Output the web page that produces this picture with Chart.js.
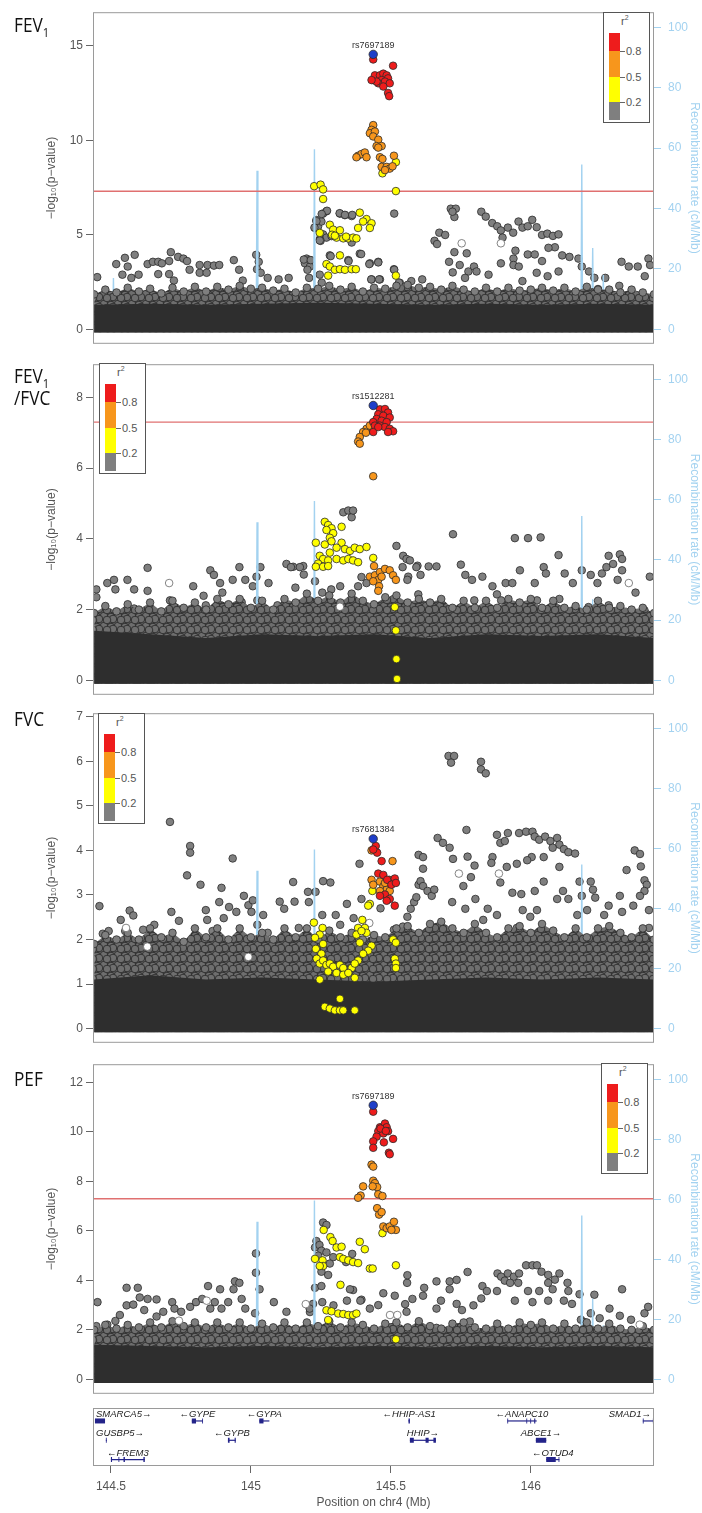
<!DOCTYPE html>
<html>
<head>
<meta charset="utf-8">
<script src="https://cdn.jsdelivr.net/npm/chart.js@4.4.1/dist/chart.umd.min.js"></script>
<style>
  body { margin: 0; background: #fff; width: 702px; height: 1513px; position: relative; overflow: hidden; font-family: 'Liberation Sans', Arial, sans-serif; }
  .box { position: absolute; left: 0; width: 702px; }
  .lab { position: absolute; left: 14px; font-family: 'Open Sans', sans-serif; font-size: 20px; line-height: 22px; color: #111; transform: scaleX(0.86); transform-origin: 0 0; z-index: 5; }
  .lab sub { font-size: 13px; vertical-align: -5px; line-height: 0; }
  .key { position: absolute; width: 45px; height: 109px; border: 1px solid #555; background: #fff; font-size: 11px; color: #555; z-index: 5; }
  .key .r2 { position: absolute; left: 17px; top: 1px; }
  .key .r2 sup { font-size: 7px; }
  .key .seg { position: absolute; left: 5px; width: 11px; }
  .key .tk { position: absolute; left: 16px; width: 5px; height: 1px; background: #666; }
  .key .tl { position: absolute; left: 22px; line-height: 12px; }
</style>
</head>
<body>
<script>
// x axis (Mb on chr4)
const X_MIN = 144.436;
const X_MAX = 146.44;
const X_TICKS = [144.5, 145, 145.5, 146];
const GW_LINE = 7.3;
const REC_TICKS = [0, 20, 40, 60, 80, 100];
const REC_MIN = -4.8;
const REC_MAX = 105;
const R2_LABELS = ['0.8', '0.5', '0.2'];

const COLORS = {
	red: '#ee1c1c',
	orange: '#f7961c',
	yellow: '#ffff00',
	gray: '#7f7f7f',
	blue: '#1f3ec8',
	rec: '#a3d2f0',
	navy: '#24248a',
	axis: '#555555',
};

// recombination rate (shared by all panels)
const REC_X = [144.436, 144.47, 144.506, 144.509, 144.512, 144.56, 144.62, 144.70, 144.78, 144.86, 144.94, 145.00, 145.019, 145.022, 145.025, 145.08, 145.14, 145.20, 145.224, 145.227, 145.230, 145.30, 145.38, 145.46, 145.54, 145.62, 145.70, 145.78, 145.86, 145.94, 146.02, 146.10, 146.179, 146.182, 146.185, 146.218, 146.221, 146.224, 146.256, 146.259, 146.262, 146.32, 146.38, 146.44];
const REC_Y = [1.5, 2.5, 1, 17, 1, 2, 3, 1.5, 2, 1, 2.5, 1.5, 1, 52.5, 1, 2, 1.5, 2, 1, 59.6, 1, 2, 1.5, 2.5, 1, 2, 3, 1.5, 2, 1, 2.5, 1.5, 1, 54.6, 1, 1, 26.9, 1, 1, 18, 1, 2, 1.5, 2];

// top edge of the dense SNP mass, and of its darkest part
const MASS_X = [144.44, 144.48, 144.52, 144.56, 144.60, 144.64, 144.68, 144.72, 144.76, 144.80, 144.84, 144.88, 144.92, 144.96, 145.00, 145.04, 145.08, 145.12, 145.16, 145.20, 145.24, 145.28, 145.32, 145.36, 145.40, 145.44, 145.48, 145.52, 145.56, 145.60, 145.64, 145.68, 145.72, 145.76, 145.80, 145.84, 145.88, 145.92, 145.96, 146.00, 146.04, 146.08, 146.12, 146.16, 146.20, 146.24, 146.28, 146.32, 146.36, 146.40, 146.44];
const DARK_X = [144.44, 144.64, 144.84, 145.04, 145.24, 145.44, 145.64, 145.84, 146.04, 146.24, 146.44];

//FEV1
const FEV1_MASS = [1.85, 2.1, 1.95, 2.2, 2.0, 2.15, 1.9, 2.2, 2.0, 2.25, 2.0, 2.25, 2.1, 2.3, 2.15, 2.2, 2.05, 2.15, 1.95, 2.2, 2.15, 2.3, 2.1, 2.25, 2.0, 2.2, 2.15, 2.3, 2.35, 2.2, 2.25, 2.1, 2.3, 2.1, 2.0, 2.2, 2.0, 2.2, 2.05, 2.1, 2.2, 2.05, 2.2, 2.0, 2.25, 2.1, 2.1, 1.95, 2.1, 1.95, 1.85];
const FEV1_DARK = [1.3, 1.35, 1.3, 1.35, 1.4, 1.35, 1.3, 1.35, 1.3, 1.35, 1.3];
const FEV1_LEAD = [145.437, 14.54];
const FEV1_RED = [[145.437,14.27],[145.508,13.94],[145.437,13.18],[145.443,13.43],[145.461,13.43],[145.473,13.52],[145.485,13.43],[145.490,13.27],[145.467,13.18],[145.479,13.10],[145.455,13.01],[145.496,13.01],[145.473,12.84],[145.490,12.50],[145.494,12.33],[145.449,13.10],[145.431,13.18]];
const FEV1_ORANGE = [[145.437,10.80],[145.431,10.55],[145.425,10.37],[145.443,10.46],[145.437,10.20],[145.455,10.03],[145.449,9.69],[145.467,9.69],[145.455,9.61],[145.383,9.18],[145.395,9.27],[145.407,9.35],[145.413,9.10],[145.377,9.10],[145.461,9.10],[145.470,9.01],[145.511,9.18],[145.467,8.59],[145.485,8.59],[145.496,8.50],[145.479,8.42],[145.506,8.62]];
const FEV1_YELLOW = [[145.518,8.84],[145.470,8.25],[145.226,7.57],[145.249,7.65],[145.258,7.40],[145.258,6.89],[145.518,7.31],[145.389,6.17],[145.413,5.83],[145.431,5.61],[145.401,5.70],[145.425,5.36],[145.383,5.36],[145.282,5.53],[145.294,5.27],[145.246,5.10],[145.318,5.24],[145.306,4.85],[145.330,4.81],[145.348,4.81],[145.365,4.85],[145.377,4.81],[145.290,5.00],[145.300,4.95],[145.340,4.90],[145.318,3.91],[145.270,3.45],[145.282,3.32],[145.300,3.15],[145.318,3.18],[145.336,3.15],[145.360,3.18],[145.375,3.18],[145.276,2.84],[145.518,2.84]];
const FEV1_WHITE = [[145.753,4.55],[145.893,4.55]];
const FEV1_GRAY = [[145.270,6.24],[145.258,6.12],[145.318,6.12],[145.336,6.04],[145.360,5.99],[145.234,5.78],[145.229,5.36],[145.240,5.44],[145.252,5.70],[145.258,5.02],[145.270,4.85],[145.246,4.76],[145.288,4.93],[145.360,4.59],[145.512,6.12],[145.249,4.68],[145.282,3.91],[145.348,3.66],[145.389,4.00],[145.425,3.49],[145.455,3.57],[145.199,3.74],[145.211,3.66],[145.193,3.49],[145.211,3.32],[145.511,3.18],[145.246,2.89],[145.431,2.64],[145.461,2.64],[145.532,2.46],
	[144.451,2.76],[144.519,3.45],[144.550,3.78],[144.585,3.94],[144.560,3.32],[144.541,2.89],[144.573,2.72],[144.599,2.89],[144.631,3.45],[144.650,3.57],[144.669,3.57],[144.669,2.92],[144.682,3.49],[144.708,3.61],[144.714,4.08],[144.740,3.83],[144.759,3.74],[144.772,3.61],[144.708,2.92],[144.725,2.58],[144.781,3.15],[144.817,2.99],[144.817,3.40],[144.845,3.40],[144.868,3.37],[144.887,3.40],[144.842,2.99],[144.939,3.66],[144.958,3.15],[144.971,2.58],[145.019,3.94],[145.028,3.57],[145.022,3.18],[145.035,2.99],[145.060,2.72],[145.099,2.64],[145.135,2.72],[145.189,3.69],[145.214,3.66],[145.202,3.15],[145.208,2.72],[145.253,2.47],[145.272,6.27],[145.253,6.10],[145.234,5.72],[145.227,5.38],[145.246,4.70],[145.285,3.87],[145.349,3.61],[145.317,6.14],[145.336,6.05],[145.362,6.05],[145.394,3.98],[145.423,3.45],[145.455,3.54],[145.430,2.64],[145.458,2.64],[145.512,3.15],[145.529,2.47],[145.573,2.55],[145.612,2.64],
	[145.656,4.68],[145.665,4.51],[145.673,5.11],[145.694,4.99],[145.714,6.38],[145.727,5.94],[145.732,6.38],[145.720,6.22],[145.727,4.08],[145.771,4.02],[145.708,3.57],[145.721,3.01],[145.746,3.40],[145.777,3.06],[145.797,3.32],[145.806,3.06],[145.765,2.72],[145.823,6.22],[145.839,5.96],[145.862,5.62],[145.880,5.45],[145.893,5.23],[145.899,4.85],[145.918,5.38],[145.937,5.11],[145.956,5.70],[145.970,5.38],[145.989,5.45],[146.005,5.79],[146.021,5.40],[146.040,4.99],[146.059,5.06],[146.079,4.94],[146.099,5.02],[146.086,4.34],[146.063,4.31],[145.945,4.16],[145.938,3.74],[145.938,3.40],[145.957,3.32],[145.989,3.96],[146.014,3.96],[146.040,3.61],[146.021,2.99],[146.099,3.06],[146.112,3.91],[146.138,3.83],[146.170,3.74],[146.182,3.32],[146.208,3.06],[145.893,3.49],[145.849,2.89],[145.970,2.55],[146.060,2.81],[146.227,2.72],[146.266,2.72],[146.324,3.57],[146.350,3.32],[146.382,3.32],[146.420,3.74],[146.426,3.40],[146.407,2.81],[146.316,2.30],[146.240,2.13]];

//FEV1/FVC
const RATIO_MASS = [1.9, 2.1, 1.95, 2.15, 2.0, 2.2, 1.95, 2.25, 2.05, 2.2, 2.0, 2.3, 2.15, 2.3, 2.05, 2.25, 2.0, 2.3, 2.2, 2.45, 2.25, 2.4, 2.2, 2.45, 2.25, 2.15, 2.35, 2.4, 2.2, 2.3, 2.2, 2.3, 2.05, 2.25, 2.05, 2.25, 2.05, 2.3, 2.2, 2.3, 2.05, 2.25, 2.05, 2.1, 2.0, 2.25, 2.05, 2.1, 2.0, 2.05, 1.9];
const RATIO_DARK = [1.4, 1.3, 1.2, 1.3, 1.25, 1.3, 1.2, 1.3, 1.25, 1.3, 1.2];
const RATIO_LEAD = [145.437, 7.77];
const RATIO_RED = [[145.461,7.66],[145.479,7.67],[145.490,7.57],[145.455,7.52],[145.473,7.48],[145.496,7.43],[145.449,7.39],[145.467,7.34],[145.485,7.30],[145.437,7.30],[145.443,7.20],[145.461,7.20],[145.479,7.16],[145.496,7.11],[145.508,7.04],[145.490,7.02],[145.437,7.02],[145.455,7.16]];
const RATIO_ORANGE = [[145.413,7.11],[145.401,7.02],[145.389,6.88],[145.383,6.75],[145.389,6.69],[145.425,7.20],[145.411,7.00],[145.437,5.77],[145.425,2.93],[145.443,2.97],[145.461,3.06],[145.479,3.15],[145.496,3.11],[145.508,2.97],[145.518,2.84],[145.455,2.84],[145.458,2.66],[145.455,2.53],[145.437,2.80],[145.467,2.93],[145.440,3.23]];
const RATIO_YELLOW = [[145.264,4.48],[145.276,4.39],[145.288,4.30],[145.270,4.25],[145.294,4.16],[145.282,4.03],[145.324,4.34],[145.232,3.89],[145.264,3.84],[145.288,3.93],[145.324,3.89],[145.306,3.75],[145.336,3.71],[145.354,3.66],[145.371,3.75],[145.389,3.71],[145.413,3.77],[145.282,3.61],[145.246,3.52],[145.258,3.43],[145.276,3.39],[145.306,3.43],[145.330,3.39],[145.348,3.43],[145.365,3.39],[145.383,3.34],[145.240,3.30],[145.232,3.21],[145.258,3.21],[145.276,3.23],[145.437,3.46],[145.514,2.07],[145.518,1.41],[145.520,0.60],[145.522,0.04]];
const RATIO_WHITE = [[144.708,2.75],[145.318,2.08],[146.350,2.75]];
const RATIO_GRAY = [[145.330,4.75],[145.348,4.80],[145.360,4.61],[145.365,4.80],[145.520,3.80],[145.544,3.52],[145.556,3.43],[145.568,3.39],[145.562,2.93],[145.595,3.24],[145.395,2.92],[145.413,2.75],[145.187,3.23],[145.189,2.99],[145.151,3.21],[145.229,2.80],
	[144.448,2.57],[144.448,2.35],[144.487,2.75],[144.511,2.84],[144.559,2.84],[144.516,2.57],[144.583,2.57],[144.631,3.18],[144.631,2.53],[144.794,2.66],[144.831,2.39],[144.855,3.11],[144.868,2.98],[144.890,2.75],[144.898,2.48],[144.935,2.84],[144.959,3.20],[144.980,2.84],[145.007,2.66],[145.020,2.93],[145.034,3.20],[145.063,2.75],[145.023,2.26],[145.127,3.29],[145.143,3.20],[145.175,3.20],[145.159,2.62],[145.255,2.48],[145.287,2.57],[145.319,2.66],[145.383,2.66],[145.542,3.20],[145.591,3.20],[145.559,2.84],[145.606,2.98],[145.635,3.22],[145.663,3.22],
	[145.722,4.13],[145.750,3.27],[145.766,2.98],[145.790,2.84],[145.827,2.93],[145.863,2.66],[145.879,2.43],[145.910,2.75],[145.943,4.02],[145.934,2.75],[145.961,3.11],[145.990,4.02],[146.014,2.75],[146.035,4.04],[146.046,3.20],[146.054,3.02],[146.099,3.54],[146.121,3.02],[146.150,2.75],[146.182,3.11],[146.214,2.98],[146.238,2.75],[146.254,3.02],[146.270,3.20],[146.278,3.52],[146.294,3.29],[146.318,3.56],[146.326,3.43],[146.326,3.11],[146.310,2.84],[146.374,2.48],[146.425,2.93],[146.406,1.98],[146.342,1.93],[146.278,2.12],[146.206,2.07],[146.102,2.30],[146.022,2.26],[145.894,2.26],[145.798,2.26],[145.686,2.12],[145.598,2.43],[145.510,2.30],[145.223,2.03],[145.095,2.12],[144.967,2.21],[144.839,2.12],[144.711,2.26],[144.583,2.03]];

//FVC
const FVC_MASS = [1.9, 2.1, 2.0, 2.15, 2.0, 2.25, 2.05, 2.15, 1.95, 2.25, 2.05, 2.25, 2.0, 2.25, 2.05, 2.15, 2.0, 2.25, 2.05, 2.25, 2.0, 2.2, 2.05, 2.15, 2.0, 2.1, 2.05, 2.25, 2.3, 2.15, 2.35, 2.4, 2.25, 2.15, 2.35, 2.15, 2.05, 2.25, 2.3, 2.15, 2.35, 2.2, 2.05, 2.25, 2.05, 2.25, 2.3, 2.15, 2.05, 2.25, 2.0];
const FVC_DARK = [1.1, 1.2, 1.1, 1.15, 1.1, 1.05, 1.1, 1.15, 1.1, 1.15, 1.1];
const FVC_LEAD = [145.437, 4.26];
const FVC_RED = [[145.446,4.10],[145.451,3.95],[145.437,4.02],[145.467,3.76],[145.455,3.48],[145.473,3.45],[145.487,3.34],[145.514,3.37],[145.502,3.23],[145.518,3.27],[145.479,3.01],[145.496,2.91],[145.514,2.76],[145.461,2.98],[145.485,2.87]];
const FVC_ORANGE = [[145.506,3.76],[145.431,3.34],[145.437,3.23],[145.461,3.30],[145.473,3.19],[145.485,3.12],[145.461,3.09],[145.496,3.09],[145.479,3.27],[145.494,3.34],[145.431,4.00]];
const FVC_YELLOW = [[145.434,3.09],[145.425,2.80],[145.419,2.76],[145.225,2.38],[145.256,2.26],[145.246,2.11],[145.229,2.04],[145.258,1.90],[145.232,1.79],[145.252,1.68],[145.235,1.57],[145.246,1.46],[145.258,1.53],[145.270,1.43],[145.282,1.46],[145.294,1.39],[145.276,1.28],[145.318,1.43],[145.330,1.36],[145.360,1.36],[145.306,1.25],[145.330,1.21],[145.348,1.25],[145.371,1.14],[145.246,1.10],[145.383,2.26],[145.377,2.11],[145.407,2.26],[145.413,2.15],[145.395,2.19],[145.389,1.93],[145.431,1.86],[145.419,1.75],[145.401,1.68],[145.383,1.53],[145.371,1.46],[145.508,2.00],[145.518,1.93],[145.514,1.57],[145.518,1.46],[145.518,1.36],[145.318,0.67],[145.264,0.49],[145.282,0.45],[145.300,0.41],[145.318,0.41],[145.330,0.41],[145.371,0.41],[145.398,2.44]];
const FVC_WHITE = [[144.554,2.26],[144.630,1.84],[144.991,1.61],[145.423,2.37],[145.743,3.48],[145.886,3.48]];
const FVC_GRAY = [[144.459,2.75],[144.471,2.13],[144.492,2.19],[144.535,2.44],[144.551,2.19],[144.567,2.65],[144.580,2.54],[144.615,2.22],[144.655,2.33],[144.711,4.64],[144.716,2.62],[144.743,2.42],[144.772,3.44],[144.783,4.10],[144.783,3.95],[144.820,3.23],[144.839,2.66],[144.844,2.44],[144.863,2.19],[144.887,2.84],[144.895,3.16],[144.903,2.48],[144.935,3.82],[144.922,2.73],[144.948,2.62],[144.975,2.98],[144.991,2.77],[145.007,2.88],[145.002,2.62],[145.023,2.33],[145.044,2.55],[145.060,2.15],[145.103,2.85],[145.119,2.69],[145.151,3.29],[145.156,2.85],[145.171,2.26],[145.207,2.84],[145.204,3.07],[145.231,3.07],[145.258,3.31],[145.284,3.28],[145.255,2.55],[145.303,2.55],[145.319,2.33],[145.343,2.80],[145.367,2.48],[145.388,3.70],[145.395,2.91],[145.463,2.70],
	[145.511,2.22],[145.526,2.15],[145.543,2.29],[145.559,2.51],[145.571,2.69],[145.583,2.84],[145.591,2.95],[145.599,3.23],[145.606,3.31],[145.615,3.20],[145.631,3.09],[145.646,2.98],[145.615,3.59],[145.599,3.90],[145.615,3.85],[145.655,3.12],[145.667,4.28],[145.686,4.17],[145.710,4.06],[145.722,3.81],[145.706,6.12],[145.726,6.12],[145.715,5.97],[145.770,4.46],[145.774,3.86],[145.786,3.40],[145.799,3.66],[145.759,3.20],[145.719,2.84],[145.766,2.69],[145.802,2.91],[145.846,2.69],[145.822,5.99],[145.822,5.82],[145.839,5.73],[145.863,3.85],[145.859,3.72],[145.879,4.35],[145.891,4.17],[145.891,3.28],[145.907,4.21],[145.918,4.39],[145.958,4.39],[145.983,4.42],[146.006,4.42],[146.014,4.31],[146.030,4.24],[146.051,4.31],[146.070,4.21],[146.094,4.28],[146.102,4.13],[146.118,4.03],[146.134,3.96],[146.158,3.93],[146.078,4.06],[146.102,3.63],[146.046,3.85],[146.003,3.85],[145.987,3.78],[145.950,3.70],[145.914,3.63],[145.934,3.05],[145.966,3.02],[146.014,3.09],[146.046,3.30],[146.115,3.09],[146.134,2.91],[146.094,2.91],
	[146.174,3.30],[146.214,3.30],[146.222,3.12],[146.230,2.94],[146.182,2.98],[146.318,2.98],[146.342,3.56],[146.371,4.00],[146.390,3.92],[146.393,3.64],[146.406,3.33],[146.414,3.23],[146.406,3.09],[146.390,2.98],[146.366,2.76],[146.326,2.62],[146.278,2.76],[146.262,2.55],[146.201,2.66],[146.166,2.55],[146.022,2.66],[145.971,2.66],[145.998,2.51],[145.950,2.26],[145.879,2.55],[145.830,2.44],[146.422,2.66],[146.422,2.26]];

//PEF
const PEF_MASS = [2.0, 2.2, 2.05, 2.2, 2.1, 2.3, 2.1, 2.35, 2.15, 2.3, 2.1, 2.3, 2.1, 2.3, 2.05, 2.25, 2.1, 2.3, 2.05, 2.3, 2.15, 2.35, 2.1, 2.3, 2.2, 2.05, 2.25, 2.3, 2.1, 2.35, 2.15, 2.05, 2.25, 2.3, 2.1, 2.05, 2.25, 2.05, 2.3, 2.2, 2.3, 2.05, 2.25, 2.05, 2.3, 2.05, 2.25, 2.05, 2.0, 2.15, 2.0];
const PEF_DARK = [1.4, 1.35, 1.3, 1.35, 1.3, 1.35, 1.3, 1.35, 1.3, 1.35, 1.3];
const PEF_LEAD = [145.437, 11.08];
const PEF_RED = [[145.437,10.82],[145.461,10.19],[145.479,10.34],[145.485,10.19],[145.490,10.03],[145.455,10.03],[145.473,9.94],[145.449,9.81],[145.508,9.72],[145.437,9.62],[145.475,9.58],[145.437,9.36],[145.493,9.16],[145.496,9.10],[145.463,10.14],[145.482,10.04]];
const PEF_ORANGE = [[145.431,8.68],[145.437,8.60],[145.437,8.03],[145.443,7.93],[145.451,7.77],[145.435,7.80],[145.401,7.80],[145.392,7.43],[145.383,7.34],[145.455,7.48],[145.470,7.41],[145.451,6.92],[145.458,6.66],[145.467,6.76],[145.473,6.18],[145.485,6.11],[145.496,6.18],[145.511,6.37],[145.518,6.04],[145.502,6.04]];
const PEF_YELLOW = [[145.470,5.91],[145.260,6.04],[145.284,5.75],[145.292,5.59],[145.389,5.56],[145.407,5.26],[145.306,5.33],[145.324,5.36],[145.318,4.94],[145.330,4.87],[145.348,4.81],[145.365,4.74],[145.383,4.70],[145.229,4.87],[145.256,4.81],[145.258,4.58],[145.246,4.58],[145.518,4.61],[145.425,4.48],[145.435,4.48],[145.320,3.82],[145.270,2.79],[145.288,2.75],[145.312,2.66],[145.330,2.64],[145.348,2.60],[145.365,2.60],[145.377,2.66],[145.276,2.40],[145.518,1.62]];
const PEF_WHITE = [[144.743,2.37],[144.842,3.18],[145.196,3.04],[145.497,2.60],[145.523,2.60],[146.389,2.21]];
const PEF_GRAY = [[145.258,6.34],[145.270,6.24],[145.234,5.59],[145.229,5.33],[145.245,5.43],[145.252,5.20],[145.240,5.00],[145.270,5.13],[145.294,4.94],[145.282,4.68],[145.276,4.22],[145.252,4.35],[145.362,5.07],[145.340,4.74],[145.229,3.70],[145.252,3.77],[145.365,3.61],[145.395,3.22],[145.425,2.86],[145.455,3.00],[145.473,3.48],[145.514,3.38],[145.558,3.90],[145.577,3.25],[145.556,2.73],[145.222,3.05],[145.211,2.72],
	[144.452,3.12],[144.448,2.15],[144.487,2.21],[144.516,2.36],[144.532,2.60],[144.556,3.70],[144.556,2.99],[144.580,3.02],[144.596,3.70],[144.603,3.31],[144.631,3.25],[144.663,3.23],[144.619,2.80],[144.663,2.54],[144.687,2.73],[144.719,3.12],[144.727,2.86],[144.751,2.73],[144.783,2.93],[144.804,3.12],[144.826,3.25],[144.847,3.77],[144.871,3.12],[144.855,2.86],[144.890,3.64],[144.895,2.86],[144.919,3.12],[144.943,3.96],[144.959,3.90],[144.938,3.64],[144.967,3.25],[144.980,2.86],[145.018,5.09],[145.018,4.31],[145.031,3.64],[145.015,2.67],[145.082,3.12],[145.127,2.73],[145.210,2.86],[145.255,3.12],[145.295,2.99],[145.343,3.18],[145.354,3.64],[145.391,3.18],
	[145.551,3.04],[145.559,4.21],[145.615,3.38],[145.619,3.70],[145.663,3.96],[145.663,2.86],[145.679,3.18],[145.710,3.96],[145.710,3.64],[145.735,4.02],[145.735,3.05],[145.754,2.80],[145.774,4.34],[145.795,2.99],[145.827,3.77],[145.843,3.57],[145.823,3.27],[145.881,4.28],[145.894,4.15],[145.907,3.99],[145.918,4.28],[145.939,4.15],[145.958,4.28],[145.983,4.61],[146.006,4.61],[146.022,4.61],[146.038,4.35],[146.062,4.22],[146.086,4.03],[146.102,4.28],[146.062,3.90],[146.078,3.64],[146.030,3.57],[145.990,3.57],[145.955,3.90],[145.926,3.90],[145.879,3.57],[146.131,3.90],[146.134,3.57],[146.147,3.05],[146.062,3.18],[146.118,3.18],[146.174,3.44],[146.179,2.41],[146.227,3.42],[146.214,2.67],[146.246,2.47],[146.281,2.86],[146.318,2.57],[146.326,3.64],[146.358,2.41],[146.406,2.67],[146.419,2.93],[145.943,3.18],[146.006,3.12],[146.190,2.32],[145.663,2.08],[145.782,2.34],[145.863,1.95]];

// gene track
const GENE_NAME = ['SMARCA5', 'GYPE', 'GYPA', 'HHIP-AS1', 'ANAPC10', 'SMAD1', 'GUSBP5', 'GYPB', 'HHIP', 'ABCE1', 'FREM3', 'OTUD4'];
const GENE_STRAND = ['+', '-', '-', '-', '-', '+', '+', '-', '+', '+', '-', '-'];
const GENE_ROW = [1, 1, 1, 1, 1, 1, 2, 2, 2, 2, 3, 3];
const GENE_START = [144.443, 144.789, 145.030, 145.563, 145.916, 146.400, 144.482, 144.918, 145.568, 146.018, 144.500, 146.055];
const GENE_END = [144.479, 144.829, 145.066, 145.568, 146.021, 146.440, 144.485, 144.946, 145.661, 146.055, 144.621, 146.102];
const GENE_EXONS = [
	[[144.443, 144.479]],
	[[144.789, 144.804], [144.826, 144.829]],
	[[145.030, 145.045]],
	[[145.563, 145.568]],
	[[145.916, 145.919], [145.984, 145.987], [145.998, 146.001], [146.012, 146.016]],
	[[146.400, 146.403], [146.436, 146.440]],
	[[144.482, 144.485]],
	[[144.918, 144.924], [144.942, 144.946]],
	[[145.568, 145.582], [145.624, 145.635], [145.652, 145.661]],
	[[146.018, 146.055]],
	[[144.500, 144.504], [144.527, 144.530], [144.545, 144.550], [144.616, 144.621]],
	[[146.055, 146.089], [146.099, 146.102]],
];

Chart.defaults.font.family = "'Liberation Sans', Arial, sans-serif";

// overlapping grey circles, used as the fill of the packed SNP band
function circlePattern() {
	const c = document.createElement('canvas');
	c.width = 14;
	c.height = 10;
	const g = c.getContext('2d');
	g.fillStyle = '#333333';
	g.fillRect(0, 0, 14, 10);
	[[3, 2], [10, 3], [6, 6], [13, 7], [1, 9], [9, 10]].forEach(([sx, sy]) => {
		for (const dx of [-14, 0, 14]) for (const dy of [-10, 0, 10]) {
			g.beginPath();
			g.arc(sx + dx, sy + dy, 3.8, 0, Math.PI * 2);
			g.fillStyle = '#6e6e6e';
			g.fill();
			g.lineWidth = 0.8;
			g.strokeStyle = '#242424';
			g.stroke();
		}
	});
	return g.createPattern(c, 'repeat');
}
const PATTERN = circlePattern();

const frame = {
	id: 'frame',
	afterDatasetsDraw(chart) {
		const { ctx, chartArea: a } = chart;
		ctx.save();
		ctx.strokeStyle = '#9a9a9a';
		ctx.lineWidth = 1;
		ctx.strokeRect(a.left + 0.5, a.top + 0.5, a.width - 1, a.height - 1);
		ctx.restore();
	},
};

function leadLabel(name, pt) {
	return {
		id: 'leadLabel',
		afterDatasetsDraw(chart) {
			const { ctx, scales } = chart;
			ctx.save();
			ctx.font = "9px 'Liberation Sans', Arial, sans-serif";
			ctx.fillStyle = '#333';
			ctx.textAlign = 'center';
			ctx.textBaseline = 'middle';
			ctx.fillText(name, scales.x.getPixelForValue(pt[0]), scales.y.getPixelForValue(pt[1]) - 9);
			ctx.restore();
		},
	};
}

function dots(data, fill, order, extra) {
	return Object.assign({
		type: 'scatter',
		data: data,
		backgroundColor: fill,
		borderColor: '#2b2b2b',
		borderWidth: 0.8,
		pointRadius: 3.8,
		order: order,
	}, extra || {});
}

function addBox(top, height) {
	const div = document.createElement('div');
	div.className = 'box';
	div.style.top = top + 'px';
	div.style.height = height + 'px';
	const cv = document.createElement('canvas');
	div.appendChild(cv);
	document.body.appendChild(div);
	return cv;
}

function addLabel(html, top) {
	const d = document.createElement('div');
	d.className = 'lab';
	d.style.top = top + 'px';
	d.innerHTML = html;
	document.body.appendChild(d);
}

function addKey(left, top) {
	const k = document.createElement('div');
	k.className = 'key';
	k.style.left = left + 'px';
	k.style.top = top + 'px';
	const segs = [[20, 17.6, COLORS.red], [37.6, 26.4, COLORS.orange], [64, 25.3, COLORS.yellow], [89.3, 17.3, COLORS.gray]];
	let h = '<div class="r2">r<sup>2</sup></div>';
	segs.forEach(s => { h += '<div class="seg" style="top:' + s[0] + 'px;height:' + s[1] + 'px;background:' + s[2] + '"></div>'; });
	R2_LABELS.forEach((t, i) => {
		const y = segs[i + 1][0];
		h += '<div class="tk" style="top:' + y + 'px"></div><div class="tl" style="top:' + (y - 6) + 'px">' + t + '</div>';
	});
	k.innerHTML = h;
	document.body.appendChild(k);
}

function drawPanel(p) {
	const cv = addBox(p.top - 8, p.bottom - p.top + 16);
	const datasets = [
		dots(p.gray, COLORS.gray, 22),
		{ type: 'line', yAxisID: 'y2', data: REC_X.map((x, i) => [x, REC_Y[i]]), borderColor: COLORS.rec, borderWidth: 1.4, pointRadius: 0, order: 21 },
		{ type: 'line', data: MASS_X.map((x, i) => [x, p.mass[i]]), borderWidth: 0, pointRadius: 0, fill: { value: p.floor }, backgroundColor: PATTERN, order: 20 },
		{ type: 'line', data: DARK_X.map((x, i) => [x, p.dark[i]]), borderWidth: 0, pointRadius: 0, fill: { value: p.floor }, backgroundColor: '#2e2e2e', order: 19 },
		dots(MASS_X.map((x, i) => [x, p.mass[i]]), COLORS.gray, 18),
		dots(p.white, '#ffffff', 16, { borderColor: '#666' }),
		{ type: 'line', data: [[X_MIN, GW_LINE], [X_MAX, GW_LINE]], borderColor: '#e07070', borderWidth: 1.4, pointRadius: 0, order: 14 },
		dots(p.yellow, COLORS.yellow, 13),
		dots(p.orange, COLORS.orange, 12),
		dots(p.red, COLORS.red, 11),
		dots([p.lead], COLORS.blue, 10, { pointRadius: 4.2 }),
	];
	return new Chart(cv, {
		type: 'scatter',
		data: { datasets: datasets },
		plugins: [frame, leadLabel(p.snp, p.lead)],
		options: {
			responsive: true,
			maintainAspectRatio: false,
			animation: false,
			layout: { padding: { top: 8, bottom: 8, left: 0, right: 0 } },
			plugins: { legend: { display: false }, tooltip: { enabled: false } },
			scales: {
				x: { type: 'linear', min: X_MIN, max: X_MAX, display: false },
				y: {
					position: 'left',
					min: p.yMin,
					max: p.yMax,
					afterFit: s => { s.width = 93; },
					afterBuildTicks: s => { s.ticks = p.yTicks.map(v => ({ value: v })); },
					grid: { drawOnChartArea: false, tickLength: 7, color: '#666' },
					border: { display: false },
					ticks: { color: COLORS.axis, font: { size: 12 }, padding: 3 },
					title: { display: true, text: '−log₁₀(p−value)', color: COLORS.axis, font: { size: 12 }, padding: { top: 44 } },
				},
				y2: {
					position: 'right',
					min: REC_MIN,
					max: REC_MAX,
					afterFit: s => { s.width = 48; },
					afterBuildTicks: s => { s.ticks = REC_TICKS.map(v => ({ value: v })); },
					grid: { drawOnChartArea: false, tickLength: 7, color: COLORS.rec },
					border: { display: false },
					ticks: { color: COLORS.rec, font: { size: 12 }, padding: 7 },
					title: { display: true, text: 'Recombination rate (cM/Mb)', color: COLORS.rec, font: { size: 12 }, padding: { top: 0 } },
				},
			},
		},
	});
}

drawPanel({ top: 6, bottom: 350, yMin: -0.765, yMax: 16.77, yTicks: [0, 5, 10, 15], floor: -0.17, snp: 'rs7697189',
	mass: FEV1_MASS, dark: FEV1_DARK, lead: FEV1_LEAD, red: FEV1_RED, orange: FEV1_ORANGE, yellow: FEV1_YELLOW, white: FEV1_WHITE, gray: FEV1_GRAY });
drawPanel({ top: 358, bottom: 701, yMin: -0.409, yMax: 8.937, yTicks: [0, 2, 4, 6, 8], floor: -0.1, snp: 'rs1512281',
	mass: RATIO_MASS, dark: RATIO_DARK, lead: RATIO_LEAD, red: RATIO_RED, orange: RATIO_ORANGE, yellow: RATIO_YELLOW, white: RATIO_WHITE, gray: RATIO_GRAY });
drawPanel({ top: 707, bottom: 1049, yMin: -0.318, yMax: 7.08, yTicks: [0, 1, 2, 3, 4, 5, 6, 7], floor: -0.08, snp: 'rs7681384',
	mass: FVC_MASS, dark: FVC_DARK, lead: FVC_LEAD, red: FVC_RED, orange: FVC_ORANGE, yellow: FVC_YELLOW, white: FVC_WHITE, gray: FVC_GRAY });
drawPanel({ top: 1058, bottom: 1400, yMin: -0.585, yMax: 12.74, yTicks: [0, 2, 4, 6, 8, 10, 12], floor: -0.15, snp: 'rs7697189',
	mass: PEF_MASS, dark: PEF_DARK, lead: PEF_LEAD, red: PEF_RED, orange: PEF_ORANGE, yellow: PEF_YELLOW, white: PEF_WHITE, gray: PEF_GRAY });

//Genes
const geneSets = [];
GENE_NAME.forEach((n, i) => {
	const row = GENE_ROW[i];
	geneSets.push({ type: 'line', data: [[GENE_START[i], row], [GENE_END[i], row]], borderColor: COLORS.navy, borderWidth: 1.2, pointRadius: 0 });
	const ex = [];
	GENE_EXONS[i].forEach(([s, e]) => { ex.push([s, row], [e, row], [e, null]); });
	geneSets.push({ type: 'line', data: ex, borderColor: COLORS.navy, borderWidth: 5, borderCapStyle: 'butt', pointRadius: 0, spanGaps: false });
});

const geneLabels = {
	id: 'geneLabels',
	afterDatasetsDraw(chart) {
		const { ctx, chartArea: a, scales } = chart;
		ctx.save();
		ctx.font = "italic 9.5px 'Liberation Sans', Arial, sans-serif";
		ctx.fillStyle = '#1c1c1c';
		ctx.textBaseline = 'middle';
		GENE_NAME.forEach((n, i) => {
			const t = GENE_STRAND[i] === '+' ? n + '→' : '←' + n;
			const w = ctx.measureText(t).width;
			let lx = scales.x.getPixelForValue((GENE_START[i] + GENE_END[i]) / 2) - w / 2;
			lx = Math.max(a.left + 3, Math.min(a.right - 3 - w, lx));
			ctx.fillText(t, lx, scales.y.getPixelForValue(GENE_ROW[i]) - 6.5);
		});
		ctx.restore();
	},
};

new Chart(addBox(1398, 115), {
	type: 'scatter',
	data: { datasets: geneSets },
	plugins: [frame, geneLabels],
	options: {
		responsive: true,
		maintainAspectRatio: false,
		animation: false,
		layout: { padding: { top: 10, bottom: 0, left: 93, right: 48 } },
		plugins: { legend: { display: false }, tooltip: { enabled: false } },
		scales: {
			x: {
				type: 'linear',
				position: 'bottom',
				min: X_MIN,
				max: X_MAX,
				afterFit: s => { s.height = 47; },
				afterBuildTicks: s => { s.ticks = X_TICKS.map(v => ({ value: v })); },
				grid: { drawOnChartArea: false, tickLength: 7, color: '#666' },
				border: { display: false },
				ticks: { color: COLORS.axis, font: { size: 12 }, padding: 6, callback: v => String(v) },
				title: { display: true, text: 'Position on chr4 (Mb)', color: COLORS.axis, font: { size: 12 }, padding: { top: 0, bottom: 3 } },
			},
			y: { type: 'linear', reverse: true, min: 0.33, max: 3.33, display: false },
		},
	},
});

//Labels and r2 keys
addLabel('FEV<sub>1</sub>', 14);
addLabel('FEV<sub>1</sub><br>/FVC', 365);
addLabel('FVC', 708);
addLabel('PEF', 1068);
addKey(603, 12);
addKey(99, 363);
addKey(98, 713);
addKey(601, 1063);
</script>
</body>
</html>
